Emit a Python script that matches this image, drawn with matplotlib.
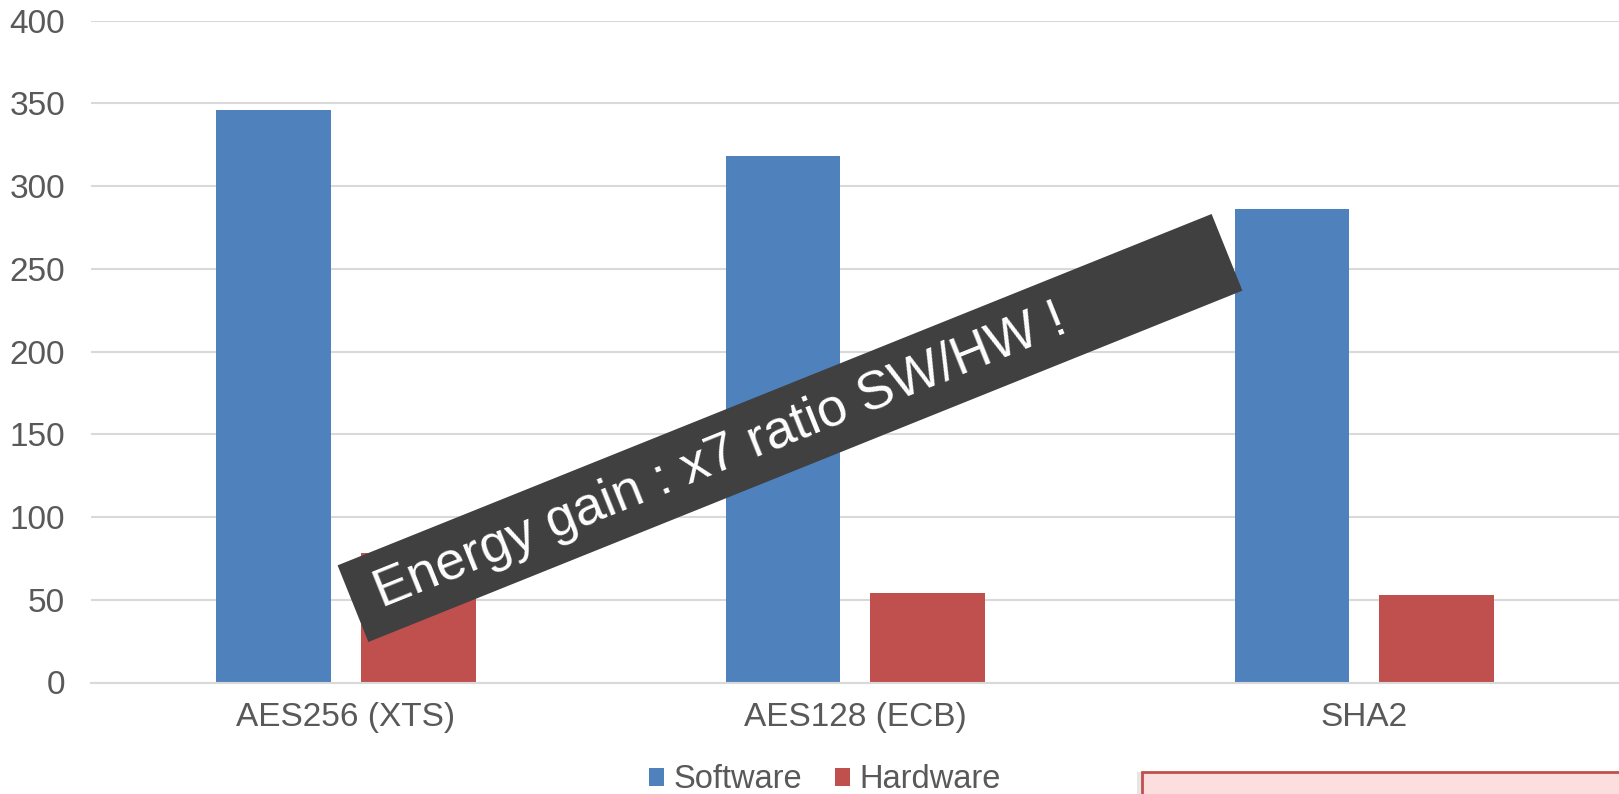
import matplotlib.pyplot as plt
import numpy as np
from matplotlib.patches import Rectangle

plt.rcParams['font.family'] = ['Liberation Sans', 'DejaVu Sans']

categories = ["AES256 (XTS)", "AES128 (ECB)", "SHA2"]
software = [346, 318, 286]
hardware = [78, 54, 53]
yticks = [0, 50, 100, 150, 200, 250, 300, 350, 400]
banner_text = "Energy gain : x7 ratio SW/HW !"

blue = '#4F81BD'
red = '#C0504D'
grey = '#595959'

fig = plt.figure(figsize=(16.19, 7.94), dpi=100)
ax = fig.add_axes([91.4 / 1619, 1 - 682.5 / 794, 1 - 91.4 / 1619, (682.5 - 20.6) / 794])

x = np.arange(len(categories))
w = 0.225
off = 0.142
ax.bar(x - off, software, w, color=blue, label="Software", zorder=2)
ax.bar(x + off, hardware, w, color=red, label="Hardware", zorder=2)

ax.set_xlim(-0.5, 2.5)
ax.set_ylim(0, 400)
ax.set_yticks(yticks)
ax.set_xticks(x)
ax.set_xticklabels(categories)
ax.tick_params(axis='both', length=0, labelsize=24, labelcolor=grey)
ax.tick_params(axis='x', pad=14)
ax.tick_params(axis='y', pad=19)
ax.grid(axis='y', color='#D9D9D9', linewidth=1.5, zorder=0)
for s in ['top', 'right', 'left']:
    ax.spines[s].set_visible(False)
ax.spines['bottom'].set_color('#D9D9D9')
ax.spines['bottom'].set_linewidth(1.5)
ax.set_axisbelow(True)

fig.legend(loc='center', bbox_to_anchor=(825 / 1619, 1 - 780 / 794), ncol=2,
           frameon=False, fontsize=23.5, labelcolor=grey, handlelength=0.45,
           handleheight=0.45, handletextpad=0.3, columnspacing=1.0)

# dark banner across the chart, in inches
ang = 21.9
bw, bh = 9.42, 0.826
cx, cy = 7.90, 3.66
banner = Rectangle((cx - bw / 2, cy - bh / 2), bw, bh, angle=ang,
                   rotation_point='center', facecolor='#404040',
                   edgecolor='none', transform=fig.dpi_scale_trans, zorder=5)
fig.add_artist(banner)
t = np.deg2rad(ang)
sx = cx - (bw / 2 - 0.25) * np.cos(t)
sy = cy - (bw / 2 - 0.25) * np.sin(t)
fig.text(sx, sy, banner_text, transform=fig.dpi_scale_trans, rotation=ang,
         rotation_mode='anchor', ha='left', va='center', color='white',
         fontsize=38.5, zorder=6)

# pink note box at the lower right
shadow = Rectangle((1137 / 100, -0.2), 5, (794 - 772) / 100 + 0.2,
                   facecolor='#E6E6E6', edgecolor='none',
                   transform=fig.dpi_scale_trans, zorder=4)
fig.add_artist(shadow)
box = Rectangle((1142 / 100, -0.2), 5, (794 - 772) / 100 + 0.2,
                facecolor='#FDDEDE', edgecolor=red, linewidth=2,
                transform=fig.dpi_scale_trans, zorder=5)
fig.add_artist(box)

fig.savefig("out.png", dpi=100)
